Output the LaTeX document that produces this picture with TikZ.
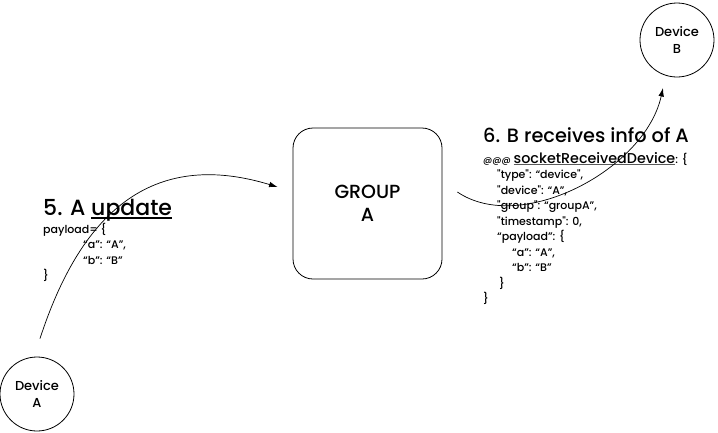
\documentclass[tikz,border=0pt]{standalone}
\usepackage{fontspec}
\setmainfont{Poppins}[UprightFont={* Medium}, Ligatures=TeXOff]
\usetikzlibrary{arrows.meta}

% underline at a fixed depth below the baseline
\newcommand{\undl}[2][black]{\sbox0{#2}\rlap{\color{#1}\rule[-0.16em]{\wd0}{0.08em}}\usebox0}

\begin{document}
\begin{tikzpicture}[
  x=1pt, y=-1pt,
  device/.style={draw, circle, line width=0.8pt, minimum size=74pt,
    inner sep=0pt, align=center, font=\fontsize{13}{17}\selectfont},
  groupbox/.style={draw, rounded corners=20pt, line width=0.8pt,
    minimum width=149pt, minimum height=151pt, align=center,
    font=\fontsize{19}{23}\selectfont},
  title/.style={anchor=base west, inner sep=0pt, font=\fontsize{22}{26}\selectfont},
  code/.style={anchor=base west, inner sep=0pt, align=left,
    font=\fontsize{11}{15.5}\selectfont},
  flow/.style={-{Latex[length=8.5pt,width=5.5pt]}, line width=0.7pt}
]
\useasboundingbox (0,0) rectangle (718,432);

% Devices and group
\node[device] (devA) at (37,394) {Device\\A};
\node[device] (devB) at (677,40) {Device\\B};
\node[groupbox] (group) at (367.5,203.5) {GROUP\\A};

% Step 5 (code nodes sit on the baseline of their last line)
\node[title] (upd) at (43,215) {5. A \undl{update}};
\node[code] (payload) at (43,279.5)
  {payload= \{\\
   \hspace*{40pt}“a”: “A”,\\
   \hspace*{40pt}“b”: “B”\\
   \}};

% Step 6
\node[title, font=\fontsize{19.3}{24}\selectfont] (recv) at (483,142)
  {6. B receives info of A};
\node[code] (sockmsg) at (483,302.5)
  {{\fontsize{9}{15.5}\selectfont @@@} {\fontsize{14.3}{15.5}\selectfont\undl[black!65]{socketReceivedDevice}}: \{\\
   \hspace*{14pt}"type": “device",\\
   \hspace*{14pt}"device": “A”,\\
   \hspace*{14pt}"group": “groupA”,\\
   \hspace*{14pt}"timestamp": 0,\\
   \hspace*{14pt}“payload”: \{\\
   \hspace*{29pt}“a”: “A”,\\
   \hspace*{29pt}“b”: “B”\\
   \hspace*{16pt}\}\\
   \}};

% Arrows
\draw[flow] ([xshift=3,yshift=18]devA.north)
  .. controls +(40,-123) and +(-128,-39) .. ([xshift=-15,yshift=16.5]group.west);
\draw[flow] ([xshift=15,yshift=11.5]group.east)
  .. controls +(63,43) and +(-18,82) .. ([xshift=-14,yshift=-48]devB.center);
\end{tikzpicture}
\end{document}
